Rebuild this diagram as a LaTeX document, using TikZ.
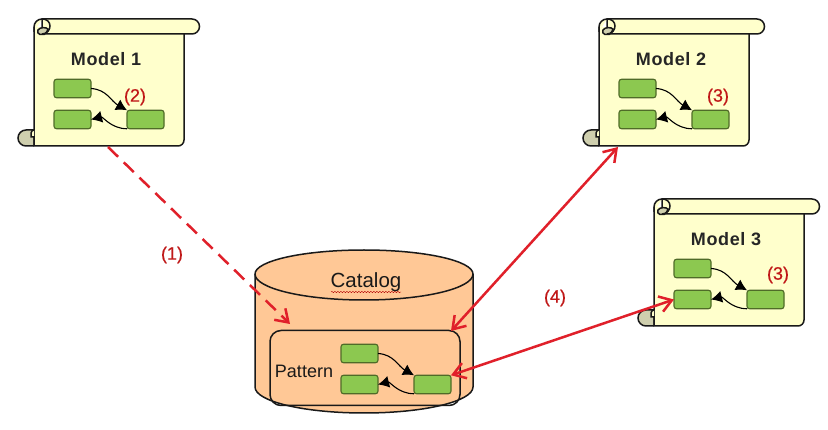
\documentclass[tikz,border=0pt]{standalone}
\usepackage{fontspec}
\setmainfont{Liberation Sans}
\usetikzlibrary{arrows.meta,decorations.pathmorphing}
\definecolor{scrollfill}{HTML}{FFFFCC}
\definecolor{curlfill}{HTML}{CFCFAE}
\definecolor{boxgreen}{HTML}{8CC850}
\definecolor{boxline}{HTML}{4F6B28}
\definecolor{catfill}{HTML}{FFC896}
\definecolor{redline}{HTML}{E0202A}
\definecolor{redtext}{HTML}{C01818}
\tikzset{
  ink/.style={draw=black!90,line width=1.5pt},
  gbox/.style={draw=boxline,fill=boxgreen,line width=1.1pt,rounded corners=2.5pt,minimum width=37pt,minimum height=18.5pt,inner sep=0pt,outer sep=0pt},
  flow/.style={black,line width=1.1pt,-{Latex[length=11pt,width=12pt]}},
  redbarb/.tip={Straight Barb[length=12pt,width=16pt,line width=2.5pt]},
  redarrow/.style={redline,line width=2.5pt,{redbarb}-{redbarb}},
  reddash/.style={redline,line width=2.5pt,dash pattern=on 14pt off 8pt,-{redbarb}},
  mtitle/.style={font=\fontsize{18}{20}\selectfont\addfontfeature{LetterSpace=3.5}\bfseries,text=black!85,inner sep=0pt},
  num/.style={font=\fontsize{18}{20}\selectfont\addfontfeature{FakeBold=0.6},text=redtext,inner sep=0pt},
  lbl/.style={font=\fontsize{18}{20}\selectfont,text=black!90,inner sep=0pt}
}
\newcommand{\threeboxes}[3]{% prefix, x, y
  \node[gbox] (#1a) at (#2+18.5,#3+9.5) {};
  \node[gbox] (#1b) at (#2+18.5,#3+40.5) {};
  \node[gbox] (#1c) at (#2+91.5,#3+40.5) {};
  \draw[flow] (#1a.east) .. controls +(16,1) and +(-16,-9) .. (#1c.north west);
  \draw[flow] (#1c.south west) .. controls +(-16,0) and +(12,-3) .. (#1b.east);
}
\newcommand{\scrollshape}[4]{% prefix, dx, dy, title
  \begin{scope}[shift={(#2,#3)}]
    % lower curl
    \draw[ink,fill=curlfill] (34,130) -- (26,130) arc[start angle=-90,end angle=-270,radius=8] -- (34,146);
    % body
    \draw[ink,fill=scrollfill] (34,27) -- (34,146) -- (178,146) arc[start angle=90,end angle=0,radius=6] -- (184,30);
    \coordinate (#1bottom) at (108,147);
    \coordinate (#1lowleft) at (53,147);
    \draw[ink,fill=scrollfill] (34,146) -- (34,137) -- (31,137) -- (31,133) .. controls (31,131) and (33,130) .. (34,130);
    % upper roll
    \draw[ink,fill=scrollfill] (42,19) -- (192,19) arc[start angle=-90,end angle=90,radius=7.5] -- (42,34) -- cycle;
    \draw[ink,fill=scrollfill] (42,19) arc[start angle=-90,end angle=-180,radius=8] -- (34,32);
    \draw[ink,fill=curlfill] (48,29) .. controls (46,27) and (40,27) .. (38,30) .. controls (37,32) and (38,34) .. (40,34.5) -- (44,34.5) .. controls (46,33) and (48,31) .. (48,29) -- cycle;
    \draw[ink] (42,19) .. controls (47,19) and (50,22) .. (50,26) .. controls (50,30) and (47,34) .. (42,34);
    \node[mtitle] (#1title) at (106,59) {#4};
    \threeboxes{#1}{54}{79}
  \end{scope}
}
\begin{document}
\begin{tikzpicture}[x=1pt,y=-1pt]
  \useasboundingbox[fill=white] (0,0) rectangle (828,430);
  \scrollshape{ma}{0}{0}{Model 1}
  \scrollshape{mb}{565}{0}{Model 2}
  \scrollshape{mc}{620}{180}{Model 3}

  % catalog
  \draw[ink,fill=catfill] (255,274) -- (255,387) arc[x radius=109,y radius=26,start angle=180,end angle=0] -- (473,274) arc[x radius=109,y radius=24,start angle=0,end angle=-180] -- cycle;
  \draw[ink] (255,274) arc[x radius=109,y radius=26,start angle=180,end angle=0];
  \node[lbl,font=\fontsize{20.5}{22}\selectfont] (cat) at (366,282) {Catalog};
  \draw[red!70!black,line width=0.4pt,decorate,decoration={snake,amplitude=0.7pt,segment length=3pt}] (331,292) -- (401,292);
  \node[draw=black!90,line width=1.5pt,rounded corners=11pt,minimum width=190pt,minimum height=75pt,inner sep=0pt,outer sep=0pt] (pattern) at (365,368) {};
  \node[lbl] (pat) at (304,371) {Pattern};
  \threeboxes{p}{341}{344}

  % red connectors
  \coordinate (dashend) at (290,324);
  \coordinate (patne) at (451,331);
  \draw[reddash] (mabottom) -- (dashend);
  \draw[redarrow] (mblowleft) -- (patne);
  \draw[redarrow] (pc.north east) -- (mcb.west);

  \node[num] (n2) at (135,97) {(2)};
  \node[num] (n3a) at (718,97) {(3)};
  \node[num] (n3b) at (778,275) {(3)};
  \node[num] (n1) at (172,255) {(1)};
  \node[num] (n4) at (555,298) {(4)};
\end{tikzpicture}
\end{document}
